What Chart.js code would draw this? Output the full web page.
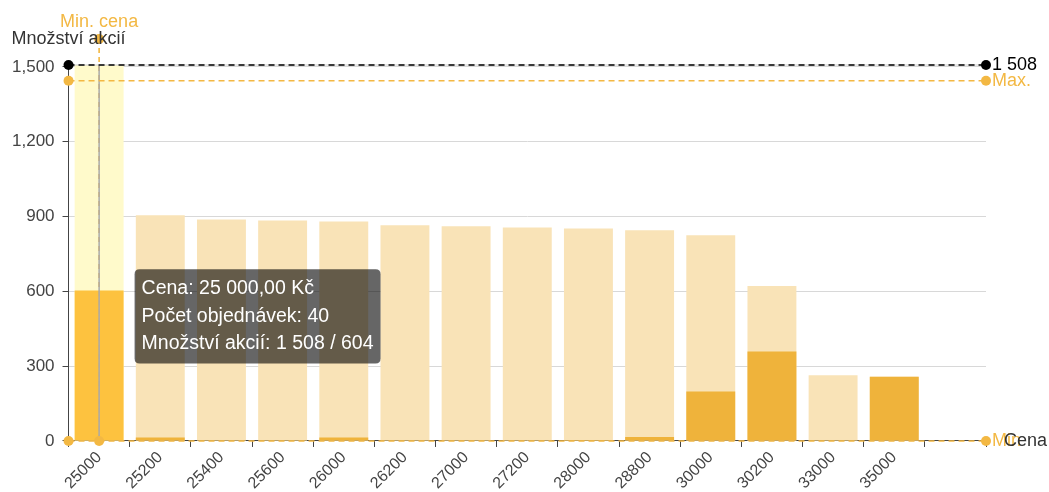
<!DOCTYPE html>
<html lang="cs">
<head>
<meta charset="utf-8">
<title>Množství akcií podle ceny</title>
<script src="https://cdn.jsdelivr.net/npm/chart.js@4/dist/chart.umd.min.js"></script>
<style>
  html, body { margin: 0; padding: 0; background: #fff; }
  #wrap { width: 1049px; height: 492px; }
</style>
</head>
<body>
<div id="wrap"><canvas id="graf"></canvas></div>
<script>
// data
const ceny = ['25000', '25200', '25400', '25600', '26000', '26200', '27000', '27200', '28000', '28800', '30000', '30200', '33000', '35000', ''];
const celkemAkcii = [1508, 905, 888, 884, 880, 865, 861, 856, 852, 845, 825, 622, 264, 258, null];
const prodanoAkcii = [604, 14, 3, 3, 14, 3, 3, 3, 4, 16, 198, 359, 3, 258, null];
const pocetObjednavek = [40];
const yTicks = [0, 300, 600, 900, 1200, 1500];
const maxLimit = 1445;
const minLimit = 0;
const minCenaIndex = 0;
const vybranyIndex = 0;   // zvýrazněný sloupec s tooltipem
const tooltipY = 500;

const FONT = "'Liberation Sans', Arial, Helvetica, sans-serif";
const ORANZOVA = '#f3b843';

const maxAkcii = Math.max(...celkemAkcii.filter(v => v != null));
const cz = n => n.toLocaleString('cs-CZ');
const kc = n => new Intl.NumberFormat('cs-CZ', { style: 'currency', currency: 'CZK' }).format(n);

const svetle = ceny.map((c, i) => i === vybranyIndex ? '#fffacb' : '#f9e3b7');
const tmave = ceny.map((c, i) => i === vybranyIndex ? '#fdc23f' : '#efb33b');

// tooltip vedle sloupce
Chart.Tooltip.positioners.vedleSloupce = function (items) {
  if (!items.length) return false;
  const el = items[0].element;
  return { x: el.x + el.width / 2 + 11, y: this.chart.scales.y.getPixelForValue(tooltipY) };
};

const bod = (ctx, x, y, barva) => {
  ctx.beginPath();
  ctx.arc(x, y, 5, 0, Math.PI * 2);
  ctx.fillStyle = barva;
  ctx.fill();
};

const carkovana = (ctx, x1, y1, x2, y2, barva, dash) => {
  ctx.beginPath();
  ctx.setLineDash(dash);
  ctx.strokeStyle = barva;
  ctx.lineWidth = 1.6;
  ctx.moveTo(x1, y1);
  ctx.lineTo(x2, y2);
  ctx.stroke();
  ctx.setLineDash([]);
};

const limity = {
  id: 'limity',
  afterDatasetsDraw(chart) {
    const { ctx, chartArea: a, scales: { x, y } } = chart;
    ctx.save();
    ctx.font = '18px ' + FONT;
    ctx.textBaseline = 'middle';

    // min. cena - svislá čára
    const mx = x.getPixelForValue(minCenaIndex);
    const topY = a.top - 26;
    carkovana(ctx, mx, topY, mx, a.bottom, ORANZOVA, [5, 4]);

    // šedá čára u vybraného sloupce
    const sx = x.getPixelForValue(vybranyIndex);
    ctx.beginPath();
    ctx.strokeStyle = '#aaaaaa';
    ctx.lineWidth = 1.5;
    ctx.moveTo(sx, a.top);
    ctx.lineTo(sx, a.bottom);
    ctx.stroke();

    // maximum akcií
    const yMax = y.getPixelForValue(maxAkcii);
    ctx.beginPath();
    ctx.strokeStyle = '#d0d0d0';
    ctx.lineWidth = 1;
    ctx.moveTo(a.left, yMax);
    ctx.lineTo(a.right, yMax);
    ctx.stroke();
    carkovana(ctx, a.left, yMax, a.right, yMax, '#000', [6, 4]);
    bod(ctx, a.left, yMax, '#000');
    bod(ctx, a.right, yMax, '#000');
    ctx.fillStyle = '#000';
    ctx.textAlign = 'left';
    ctx.fillText(cz(maxAkcii), a.right + 6, yMax);

    // Max. limit
    const yL = y.getPixelForValue(maxLimit);
    carkovana(ctx, a.left, yL, a.right, yL, ORANZOVA, [6, 4]);
    bod(ctx, a.left, yL, ORANZOVA);
    bod(ctx, a.right, yL, ORANZOVA);
    ctx.fillStyle = ORANZOVA;
    ctx.fillText('Max.', a.right + 6, yL);

    // Min limit
    const yM = y.getPixelForValue(minLimit);
    carkovana(ctx, a.left, yM, a.right, yM, ORANZOVA, [6, 4]);
    bod(ctx, a.left, yM, ORANZOVA);
    bod(ctx, a.right, yM, ORANZOVA);
    ctx.fillText('Min', a.right + 6, yM);

    // body a popisek min. ceny
    bod(ctx, mx, topY, ORANZOVA);
    bod(ctx, mx, a.bottom, ORANZOVA);
    ctx.textAlign = 'center';
    ctx.fillText('Min. cena', mx, topY - 17);

    // názvy os
    ctx.fillStyle = '#333';
    ctx.fillText('Množství akcií', a.left, topY);
    ctx.textAlign = 'left';
    ctx.fillText('Cena', a.right + 18, a.bottom);
    ctx.restore();
  }
};

const chart = new Chart(document.getElementById('graf'), {
  type: 'bar',
  data: {
    labels: ceny,
    datasets: [
      {
        label: 'Prodáno',
        data: prodanoAkcii,
        backgroundColor: tmave,
        categoryPercentage: 1,
        barPercentage: 0.8
      },
      {
        label: 'Celkem',
        data: celkemAkcii,
        backgroundColor: svetle,
        categoryPercentage: 1,
        barPercentage: 0.8
      }
    ]
  },
  options: {
    responsive: true,
    maintainAspectRatio: false,
    animation: false,
    events: [],
    locale: 'en-US',
    layout: { padding: { top: 65, right: 63, left: 4, bottom: -2 } },
    scales: {
      x: {
        stacked: true,
        afterFit: s => { s.paddingLeft = 0; s.paddingRight = 0; },
        grid: { drawOnChartArea: false, tickColor: '#444', tickLength: 6 },
        border: { color: '#444' },
        ticks: { autoSkip: false, minRotation: 45, maxRotation: 45, color: '#444', padding: 1, font: { family: FONT, size: 16 } }
      },
      y: {
        stacked: false,
        min: 0,
        max: maxAkcii,
        afterBuildTicks: axis => { axis.ticks = yTicks.map(v => ({ value: v })); },
        grid: { color: '#d8d8d8', tickColor: '#444', tickLength: 6 },
        border: { color: '#444' },
        ticks: { color: '#444', padding: 8, font: { family: FONT, size: 17 } }
      }
    },
    plugins: {
      legend: { display: false },
      tooltip: {
        position: 'vedleSloupce',
        xAlign: 'left',
        yAlign: 'center',
        caretSize: 0,
        caretPadding: 0,
        backgroundColor: 'rgba(0, 0, 0, 0.6)',
        bodyColor: '#fff',
        bodyFont: { family: FONT, size: 19.5 },
        bodySpacing: 4,
        padding: { top: 8, bottom: 8, left: 7, right: 7 },
        cornerRadius: 5,
        displayColors: false,
        callbacks: {
          title: () => '',
          label: c => {
            const i = c.dataIndex;
            return [
              'Cena: ' + kc(Number(ceny[i])),
              'Počet objednávek: ' + (pocetObjednavek[i] ?? '–'),
              'Množství akcií: ' + cz(celkemAkcii[i]) + ' / ' + cz(prodanoAkcii[i])
            ];
          }
        }
      }
    }
  },
  plugins: [limity]
});

chart.tooltip.setActiveElements([{ datasetIndex: 0, index: vybranyIndex }], { x: 0, y: 0 });
chart.update();
</script>
</body>
</html>
